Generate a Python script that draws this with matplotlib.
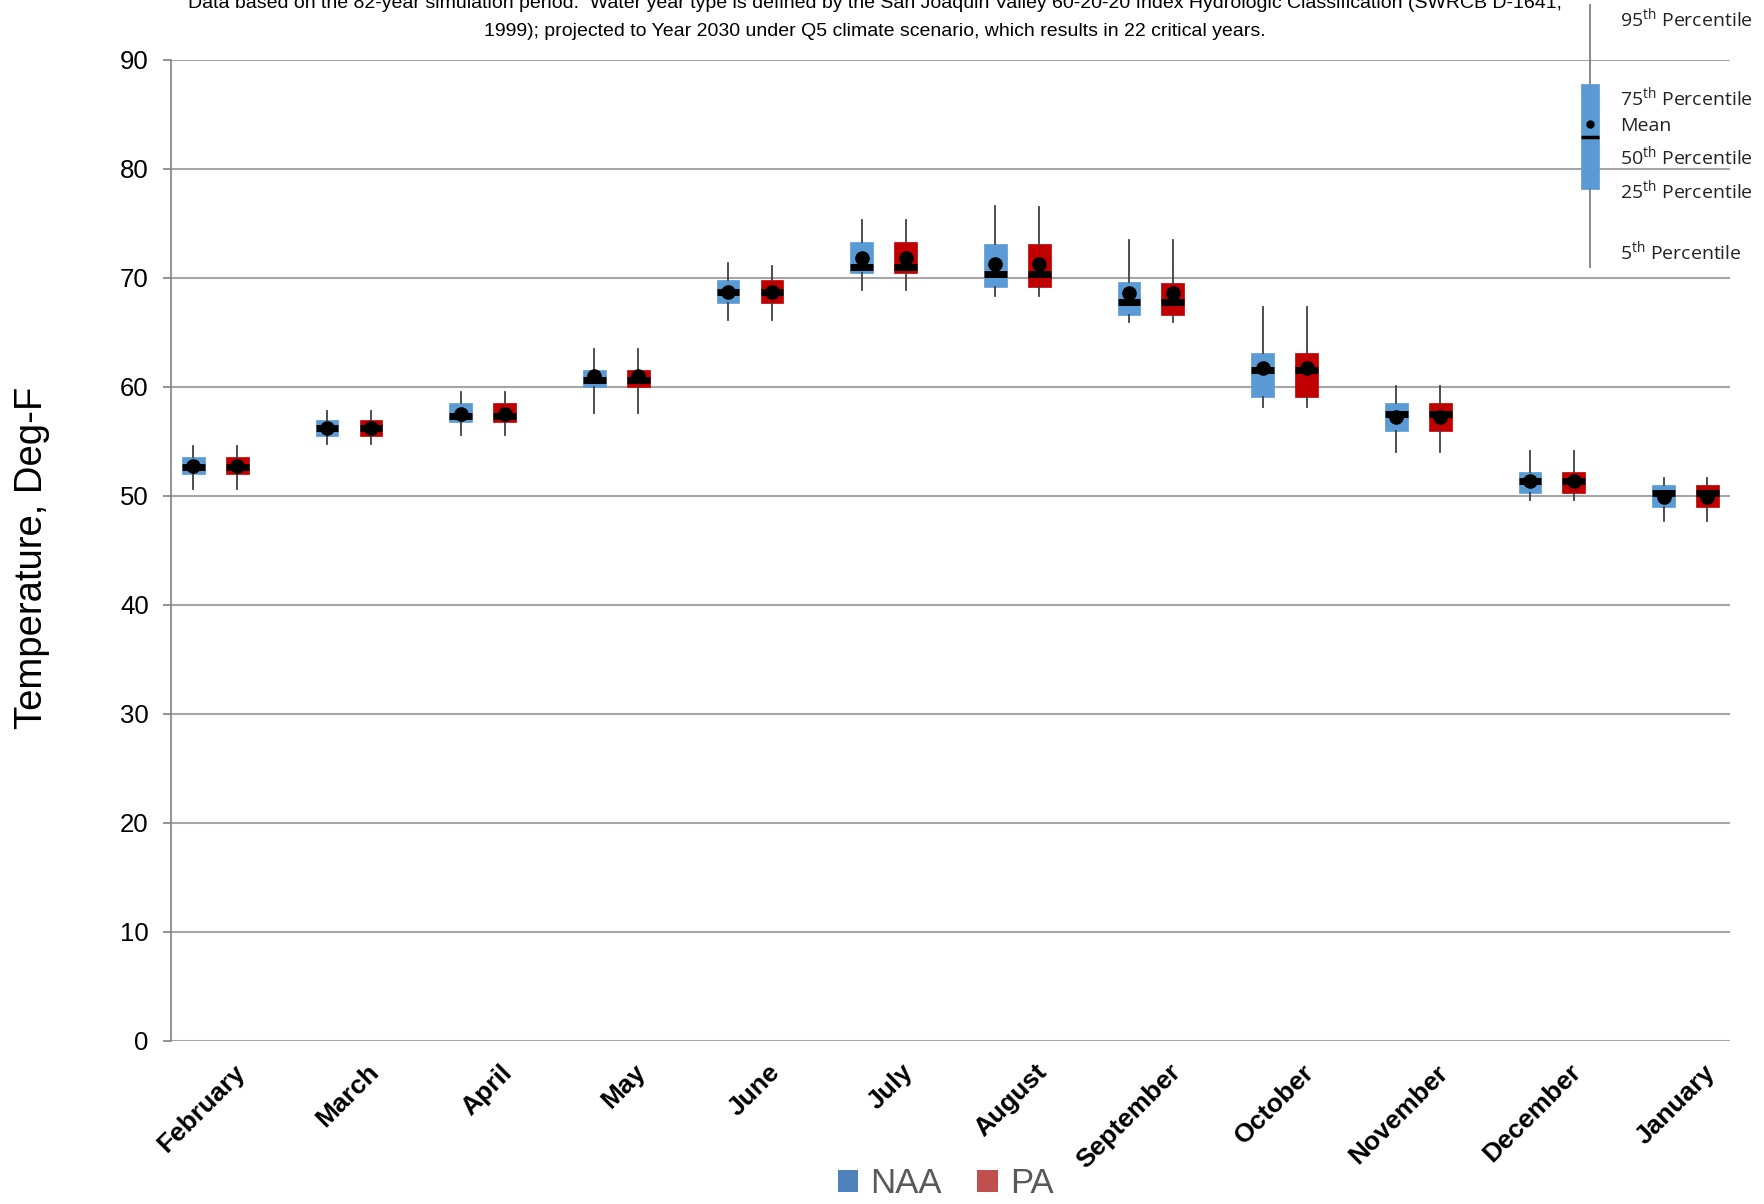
import numpy as np
import matplotlib.pyplot as plt
from matplotlib.patches import Patch

plt.rcParams['font.family'] = ['Liberation Sans', 'DejaVu Sans']
plt.rcParams['mathtext.default'] = 'regular'

months = ['February', 'March', 'April', 'May', 'June', 'July', 'August',
          'September', 'October', 'November', 'December', 'January']

# percentiles / mean, deg F
naa_p5 = [50.6, 54.7, 55.6, 57.6, 66.1, 68.9, 68.3, 65.95, 58.1, 54.0, 49.6, 47.7]
naa_p25 = [52.0, 55.5, 56.75, 59.96, 67.7, 70.45, 69.1, 66.6, 59.07, 55.95, 50.27, 48.93]
naa_p50 = [52.65, 56.17, 57.3, 60.6, 68.7, 71.0, 70.3, 67.8, 61.5, 57.5, 51.3, 50.2]
naa_mean = [52.75, 56.2, 57.5, 61.0, 68.7, 71.8, 71.25, 68.6, 61.7, 57.25, 51.35, 49.85]
naa_p75 = [53.5, 56.94, 58.47, 61.5, 69.8, 73.3, 73.1, 69.6, 63.08, 58.47, 52.17, 50.97]
naa_p95 = [54.55, 57.76, 59.55, 63.47, 71.3, 75.3, 76.6, 73.45, 67.33, 60.1, 54.1, 51.6]

pa_p5 = [50.6, 54.7, 55.6, 57.6, 66.1, 68.9, 68.3, 65.95, 58.1, 54.0, 49.6, 47.7]
pa_p25 = [52.0, 55.5, 56.75, 59.96, 67.7, 70.45, 69.1, 66.6, 59.07, 55.95, 50.27, 48.93]
pa_p50 = [52.65, 56.17, 57.3, 60.6, 68.7, 71.0, 70.3, 67.8, 61.5, 57.5, 51.3, 50.2]
pa_mean = [52.75, 56.2, 57.5, 61.0, 68.7, 71.8, 71.25, 68.6, 61.7, 57.25, 51.35, 49.85]
pa_p75 = [53.5, 56.94, 58.47, 61.5, 69.75, 73.25, 73.1, 69.5, 63.08, 58.47, 52.17, 50.97]
pa_p95 = [54.55, 57.76, 59.55, 63.47, 71.1, 75.3, 76.5, 73.45, 67.33, 60.1, 54.1, 51.6]

caption_1 = ("Data based on the 82-year simulation period.  Water year type is defined by the San Joaquin Valley "
             "60-20-20 Index Hydrologic Classification (SWRCB D-1641,")
caption_2 = "1999); projected to Year 2030 under Q5 climate scenario, which results in 22 critical years."

naa_color = '#5B9BD5'
pa_color = '#C00000'


def make_stats(p5, p25, p50, mean, p75, p95):
    return [dict(whislo=a, q1=b, med=c, mean=d, q3=e, whishi=f, fliers=[])
            for a, b, c, d, e, f in zip(p5, p25, p50, mean, p75, p95)]


fig = plt.figure(figsize=(17.64, 12.04), dpi=100)
ax = fig.add_axes([0.0969, 0.1357, 0.8838, 0.8148])

x = np.arange(len(months))
off = 0.164
for stats, pos, col in [(make_stats(naa_p5, naa_p25, naa_p50, naa_mean, naa_p75, naa_p95), x - off, naa_color),
                        (make_stats(pa_p5, pa_p25, pa_p50, pa_mean, pa_p75, pa_p95), x + off, pa_color)]:
    ax.bxp(stats, positions=pos, widths=0.17, patch_artist=True, showmeans=True,
           showcaps=False, showfliers=False,
           boxprops=dict(facecolor=col, edgecolor=col, linewidth=0.5),
           whiskerprops=dict(color='#404040', linewidth=1.3),
           medianprops=dict(color='black', linewidth=5, solid_capstyle='butt'),
           meanprops=dict(marker='o', markerfacecolor='black', markeredgecolor='black', markersize=9.5),
           manage_ticks=False, zorder=3)

ax.set_xlim(-0.332, 11.332)
ax.set_ylim(0, 90)
ax.set_yticks(np.arange(0, 91, 10))
ax.yaxis.grid(True, color='#A6A6A6', linewidth=1.5)
ax.set_axisbelow(True)
for s in ['top', 'right', 'bottom']:
    ax.spines[s].set_visible(False)
ax.spines['left'].set_color('#808080')
ax.spines['left'].set_linewidth(1.2)
ax.tick_params(axis='y', labelsize=18.5, length=6, color='#808080', width=1.2, pad=10)
ax.set_xticks(x + 0.13)
ax.set_xticklabels(months, rotation=45, ha='right', rotation_mode='anchor',
                   fontsize=19, fontweight='bold')
ax.tick_params(axis='x', length=0, pad=14)

fig.text(0.018, 0.537, 'Temperature, Deg-F', rotation=90, ha='center', va='center', fontsize=27.5)

fig.text(0.496, 1 - 4 / 1204, caption_1, ha='center', va='center', fontsize=14)
fig.text(0.496, 1 - 31 / 1204, caption_2, ha='center', va='center', fontsize=14)

handles = [Patch(facecolor='#4F81BD', label='NAA'), Patch(facecolor='#C0504D', label='PA')]
fig.legend(handles=handles, loc='center', bbox_to_anchor=(0.536, 0.017), ncol=2, frameon=False,
           fontsize=25, handlelength=0.6, handleheight=0.6, handletextpad=0.35, columnspacing=1.0,
           labelcolor='#595959')

# key box, drawn in pixel-like units
kax = fig.add_axes([1574 / 1764, 1 - 272 / 1204, 190 / 1764, 272 / 1204])
kax.set_facecolor('white')
kax.set_xlim(0, 190)
kax.set_ylim(272, 0)
kax.axis('off')
key_stats = [dict(whislo=267, q1=189, med=137, mean=124, q3=84, whishi=5, fliers=[])]
kax.bxp(key_stats, positions=[16], widths=18, patch_artist=True, showmeans=True,
        showcaps=False, showfliers=False,
        boxprops=dict(facecolor=naa_color, edgecolor=naa_color, linewidth=0.5),
        whiskerprops=dict(color='#808080', linewidth=1.3),
        medianprops=dict(color='black', linewidth=2.5, solid_capstyle='butt'),
        meanprops=dict(marker='o', markerfacecolor='black', markeredgecolor='black', markersize=5),
        manage_ticks=False)
key_labels = ['95$^{th}$ Percentile', '75$^{th}$ Percentile', 'Mean',
              '50$^{th}$ Percentile', '25$^{th}$ Percentile', '5$^{th}$ Percentile']
key_y = [19, 98, 126, 157, 191, 252]
for lab, yy in zip(key_labels, key_y):
    kax.text(46, yy, lab, ha='left', va='center', fontsize=14, color='#222222',
             family=['Open Sans', 'DejaVu Sans'])

fig.savefig('out.png', dpi=100)
